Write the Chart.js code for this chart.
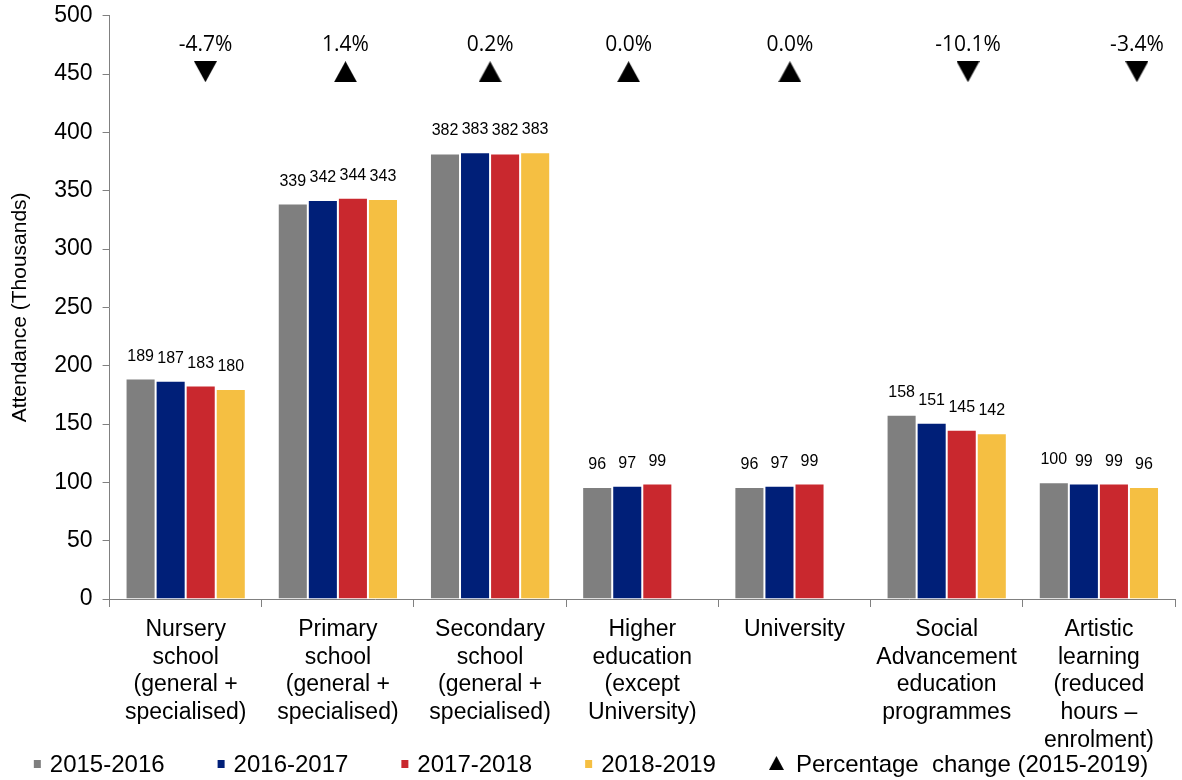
<!DOCTYPE html>
<html>
<head>
<meta charset="utf-8">
<script src="https://cdn.jsdelivr.net/npm/chart.js@4/dist/chart.umd.min.js"></script>
<style>
  html, body { margin: 0; padding: 0; background: #fff; }
  #wrap { width: 1182px; height: 780px; }
</style>
</head>
<body>
<div id="wrap"><canvas id="chart"></canvas></div>
<script>
const categories = [
    ["Nursery", "school", "(general +", "specialised)"],
    ["Primary", "school", "(general +", "specialised)"],
    ["Secondary", "school", "(general +", "specialised)"],
    ["Higher", "education", "(except", "University)"],
    ["University"],
    ["Social", "Advancement", "education", "programmes"],
    ["Artistic", "learning", "(reduced", "hours \u2013", "enrolment)"]
];
const years = ["2015-2016", "2016-2017", "2017-2018", "2018-2019"];
const colors = ["#7f7f7f", "#001f78", "#c9282e", "#f5bf42"];

const y2015 = [189, 339, 382, 96, 96, 158, 100];
const y2016 = [187, 342, 383, 97, 97, 151, 99];
const y2017 = [183, 344, 382, 99, 99, 145, 99];
const y2018 = [180, 343, 383, null, null, 142, 96];

// percentage change 2015-2019, shown as triangles near the top
const pctChange = [-4.7, 1.4, 0.2, 0.0, 0.0, -10.1, -3.4];
const pctPosX = [0.13, 1.05, 2.0, 2.91, 3.97, 5.14, 6.25];
const pctPosY = 452;

const FONT = "'Liberation Sans', Arial, sans-serif";
const PCT_FONT = "21px 'Open Sans', 'Noto Sans', sans-serif";

// little triangle marker (pointing up), rotated for negative values
function makeTriangle(w, h) {
    const c = document.createElement('canvas');
    c.width = w; c.height = h;
    const g = c.getContext('2d');
    g.fillStyle = '#000';
    g.beginPath();
    g.moveTo(w / 2, 0);
    g.lineTo(w, h);
    g.lineTo(0, h);
    g.closePath();
    g.fill();
    return c;
}
const triBig = makeTriangle(23, 21);
const triSmall = makeTriangle(15, 14);

// x is a linear axis (category index) so the triangles can sit between centres
const barSets = [y2015, y2016, y2017, y2018].map((vals, i) => ({
    type: 'bar',
    label: years[i],
    data: vals.map((v, j) => ({ x: j, y: v })),
    backgroundColor: colors[i],
    borderColor: '#ffffff',
    borderWidth: 1
}));

const pctSet = {
    type: 'scatter',
    label: 'Percentage  change (2015-2019)',
    data: pctChange.map((v, i) => ({ x: pctPosX[i], y: pctPosY })),
    pointStyle: triBig,
    pointRadius: 12,
    pointHoverRadius: 12,
    rotation: ctx => (ctx.dataIndex !== undefined && pctChange[ctx.dataIndex] < 0) ? 180 : 0,
    backgroundColor: '#000',
    borderWidth: 0
};

// values above the bars, % text above the triangles
const labelPlugin = {
    id: 'labelPlugin',
    afterDatasetsDraw(chart) {
        const ctx = chart.ctx;
        ctx.save();
        ctx.fillStyle = '#000';
        ctx.textAlign = 'center';
        ctx.textBaseline = 'alphabetic';
        chart.data.datasets.forEach((ds, di) => {
            const meta = chart.getDatasetMeta(di);
            if (ds.type === 'bar') {
                ctx.font = "16px " + FONT;
                meta.data.forEach((el, i) => {
                    if (ds.data[i].y == null) return;
                    ctx.fillText(ds.data[i].y, el.x, el.y - 18);
                });
            } else {
                ctx.font = PCT_FONT;
                meta.data.forEach((el, i) => {
                    ctx.fillText(pctChange[i].toFixed(1) + '%', el.x, el.y - 21);
                });
            }
        });
        ctx.restore();
    }
};

// legend drawn in one row at the bottom
const legendPlugin = {
    id: 'legendPlugin',
    afterDraw(chart) {
        const ctx = chart.ctx;
        const gap = 53;
        ctx.save();
        ctx.font = "24px " + FONT;
        ctx.textBaseline = 'middle';
        ctx.textAlign = 'left';
        const items = chart.data.datasets.map(ds => {
            const isBar = ds.type === 'bar';
            const mw = isBar ? 7 : 15;
            const sp = isBar ? 9 : 12;
            const tw = ctx.measureText(ds.label).width;
            return { ds, isBar, mw, sp, tw, w: mw + sp + tw };
        });
        const total = items.reduce((s, it) => s + it.w, 0) + gap * (items.length - 1);
        let x = (chart.width - total) / 2;
        const cy = 764;
        items.forEach(it => {
            if (it.isBar) {
                ctx.fillStyle = it.ds.backgroundColor;
                ctx.fillRect(x, cy - 4, 7, 8);
            } else {
                ctx.drawImage(triSmall, x, cy - 8);
            }
            ctx.fillStyle = '#000';
            ctx.fillText(it.ds.label, x + it.mw + it.sp, cy + 1);
            x += it.w + gap;
        });
        ctx.restore();
    }
};

document.addEventListener("DOMContentLoaded", () => {
    Chart.defaults.font.family = FONT;
    Chart.defaults.color = '#000';
    new Chart(document.getElementById("chart").getContext("2d"), {
        type: 'bar',
        data: {
            datasets: [...barSets, pctSet]
        },
        options: {
            responsive: true,
            maintainAspectRatio: false,
            animation: false,
            layout: { autoPadding: false, padding: { top: 11, right: 7, left: 4, bottom: 17 } },
            datasets: {
                bar: { categoryPercentage: 0.79, barPercentage: 1.0 }
            },
            plugins: {
                tooltip: { enabled: false },
                legend: { display: false }
            },
            scales: {
                x: {
                    type: 'linear',
                    min: -0.5,
                    max: 6.5,
                    offset: false,
                    afterBuildTicks: axis => {
                        axis.ticks = categories.map((c, i) => ({ value: i }));
                    },
                    grid: {
                        display: true,
                        drawOnChartArea: false,
                        offset: true,
                        tickLength: 8,
                        color: '#808080'
                    },
                    border: { color: '#808080', width: 1 },
                    ticks: {
                        callback: v => categories[v],
                        font: { size: 23, lineHeight: 1.2 },
                        color: '#000',
                        maxRotation: 0,
                        autoSkip: false,
                        padding: 9
                    }
                },
                y: {
                    min: 0,
                    max: 500,
                    grid: {
                        display: true,
                        drawOnChartArea: false,
                        tickLength: 7,
                        color: '#808080'
                    },
                    border: { color: '#808080', width: 1 },
                    ticks: {
                        stepSize: 50,
                        font: { size: 23, lineHeight: 0.5 },
                        color: '#000',
                        padding: 10
                    },
                    title: {
                        display: true,
                        text: 'Attendance (Thousands)',
                        font: { size: 21 },
                        color: '#000',
                        padding: { top: 4, bottom: 11 }
                    }
                }
            }
        },
        plugins: [labelPlugin, legendPlugin]
    });
});
</script>
</body>
</html>
